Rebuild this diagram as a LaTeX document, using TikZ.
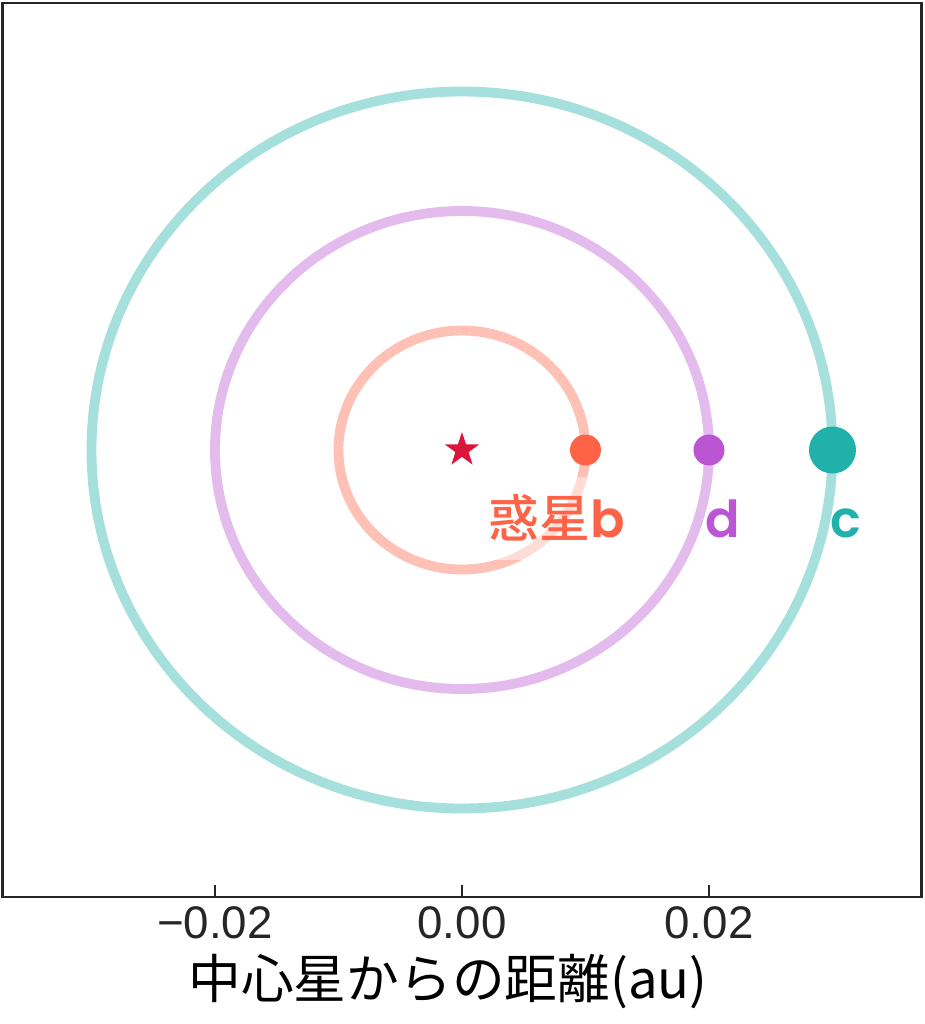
\documentclass[tikz,border=0pt]{standalone}
\usepackage{fontspec}
\setmainfont{Liberation Sans}
\newfontfamily\cjk{Noto Sans CJK JP}[BoldFont={Noto Sans CJK JP Medium}]
\newfontfamily\popfont{Poppins}[BoldFont={Poppins SemiBold}]
\usepackage{xcolor}
\usetikzlibrary{math,shapes.geometric}
\definecolor{hostred}{RGB}{220,20,60}
\definecolor{colb}{RGB}{255,99,71}
\definecolor{cold}{RGB}{186,85,211}
\definecolor{colc}{RGB}{32,178,170}
\tikzset{
  orbit/.style={line width=2.8pt},
  planet/.style={circle, inner sep=0pt},
  plabel/.style={inner xsep=1pt, inner ysep=0.18cm, anchor=base, font=\fontsize{14.5}{16}\selectfont\bfseries}
}

\begin{document}
\begin{tikzpicture}[x=1.235cm, y=1.195cm]
      \tikzmath{\xl = -3.72; \xr = 3.72; \yb = -3.74; \yt = 3.74; \ly = -0.736;}
      \useasboundingbox (-4.62cm,4.50cm) rectangle (4.63cm,-5.74cm);
      % orbits
      \draw[orbit, colb!40] (0,0) circle (1);
      \draw[orbit, cold!40] (0,0) circle (2);
      \draw[orbit, colc!40] (0,0) circle (3);
      % labels
      \node[plabel, text=colb, fill=white, fill opacity=0.45, text opacity=1] (lb) at (0.769,\ly) {{\cjk 惑星}{\popfont b}};
      \node[plabel, text=cold] (ld) at (2.113,\ly) {\popfont d};
      \node[plabel, text=colc] (lc) at (3.109,\ly) {\popfont c};
      % star and planets
      \node[star, star points=5, star point ratio=2.6, fill=hostred, inner sep=0pt, minimum size=0.36cm] (host) at (0,0) {};
      \node[planet, fill=colb, minimum size=0.31cm] (pb) at (1,0) {};
      \node[planet, fill=cold, minimum size=0.31cm] (pd) at (2,0) {};
      \node[planet, fill=colc, minimum size=0.47cm] (pc) at (3,0) {};
      % frame and ticks
      \draw[line width=0.7pt, black!85] (\xl,\yb) rectangle (\xr,\yt);
      \foreach \t/\lab [count=\i] in {-2/−0.02, 0/0.00, 2/0.02}
        \draw[line width=0.5pt, black!85] (\t,\yb) -- ++(0,0.12cm)
          node[pos=0, anchor=north, inner sep=0pt, yshift=-0.09cm, font=\fontsize{13}{15}\selectfont] (tick\i) {\lab};
      \node[font=\fontsize{15}{18}\selectfont] (xlab) at (-0.14cm,-5.32cm) {\cjk 中心星からの距離(au)};
\end{tikzpicture}
\end{document}
